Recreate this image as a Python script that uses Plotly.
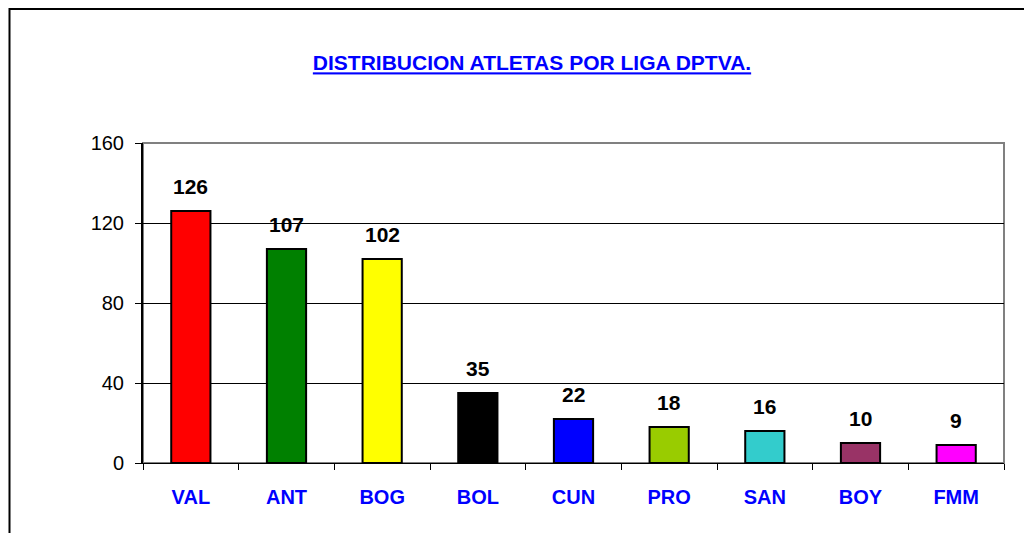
import plotly.graph_objects as go

categories = ["VAL", "ANT", "BOG", "BOL", "CUN", "PRO", "SAN", "BOY", "FMM"]
values = [126, 107, 102, 35, 22, 18, 16, 10, 9]
colors = ["#FF0000", "#008000", "#FFFF00", "#000000", "#0000FF",
          "#99CC00", "#33CCCC", "#993366", "#FF00FF"]
y_ticks = [0, 40, 80, 120, 160]
title_text = "DISTRIBUCION ATLETAS POR LIGA DPTVA."

# page body has an 8px margin, so the figure starts at (8, 8)
OFF = 8
W, H = 1032 - OFF, 533 - OFF
L, R, T, B = 143 - OFF, 28, 143 - OFF, 70
pw, ph = W - L - R, H - T - B

FONT = "Arial, Liberation Sans"

fig = go.Figure()
fig.add_trace(go.Bar(
    x=categories, y=values,
    marker=dict(color=colors, line=dict(color="#000000", width=2)),
    width=0.41,
    hoverinfo="x+y",
))

for c, v in zip(categories, values):
    fig.add_annotation(x=c, y=v, text=f"<b>{v}</b>", showarrow=False,
                       yanchor="bottom", yshift=11,
                       font=dict(family=FONT, size=21, color="#000000"))

# outer chart border
fig.add_shape(type="rect", xref="paper", yref="paper",
              x0=(1.5 - L) / pw, x1=(W + 20 - L) / pw,
              y0=-(H + 20 - T - ph) / ph, y1=1 + (T - 1) / ph,
              line=dict(color="#000000", width=2), layer="below")
# plot area border (gray)
fig.add_shape(type="rect", xref="paper", yref="paper", x0=0, x1=1, y0=0, y1=1,
              line=dict(color="#808080", width=2), layer="below")

fig.update_layout(
    width=W, height=H,
    margin=dict(l=L, r=R, t=T, b=B),
    paper_bgcolor="#FFFFFF", plot_bgcolor="#FFFFFF",
    showlegend=False,
    title=dict(text=f"<b><u>{title_text}</u></b>", x=(532 - OFF) / W, xanchor="center",
               y=1 - (63 - OFF) / H, yanchor="middle", yref="container",
               font=dict(family=FONT, size=21, color="#0000FF")),
    xaxis=dict(
        showgrid=False, tickson="boundaries", ticks="outside", ticklen=6,
        tickcolor="#000000", tickwidth=1, showline=True, linecolor="#000000", linewidth=1,
        tickfont=dict(family=FONT, size=20, color="#0000FF", weight="bold"),
        ticklabelstandoff=16,
    ),
    yaxis=dict(
        range=[0, 160], tickvals=y_ticks, showgrid=True, gridcolor="#000000", gridwidth=1,
        ticks="outside", ticklen=6, tickcolor="#000000", showline=True,
        linecolor="#000000", linewidth=2, zeroline=False,
        tickfont=dict(family=FONT, size=20, color="#000000"),
        ticklabelstandoff=7,
    ),
    bargap=0.59,
)

fig.write_html("out.html")
